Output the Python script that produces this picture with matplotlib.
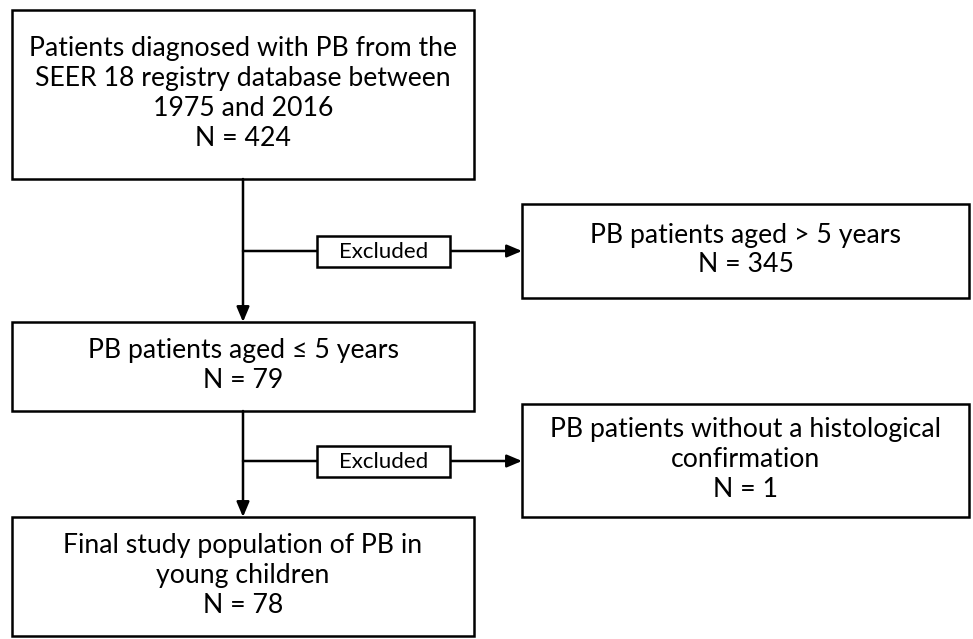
import matplotlib.pyplot as plt
from matplotlib.patches import Rectangle

# flowchart content
main_labels = ["Patients diagnosed with PB from the\nSEER 18 registry database between\n1975 and 2016",
               "PB patients aged \u2264 5 years",
               "Final study population of PB in\nyoung children"]
main_counts = [424, 79, 78]
excl_labels = ["PB patients aged > 5 years",
               "PB patients without a histological\nconfirmation"]
excl_counts = [345, 1]
step_label = "Excluded"

plt.rcParams['font.family'] = ['Lato', 'DejaVu Sans']

W, H = 973, 639
fig = plt.figure(figsize=(W / 100, H / 100), dpi=100)
ax = fig.add_axes([0, 0, 1, 1])
ax.set_xlim(0, W)
ax.set_ylim(H, 0)
ax.axis('off')

lw = 1.8
# box geometry in pixels: (x0, y0, x1, y1)
main_boxes = [(12, 10, 474, 179), (12, 322, 474, 411), (12, 517, 474, 636)]
excl_boxes = [(522, 204, 969, 298), (522, 404, 969, 517)]
branch_y = [251, 461]
cx = 243


def box(b, text, fs=19.2):
    x0, y0, x1, y1 = b
    ax.add_patch(Rectangle((x0, y0), x1 - x0, y1 - y0, fill=False, lw=lw, ec='black'))
    ax.text((x0 + x1) / 2, (y0 + y1) / 2 - 1, text, ha='center', va='center',
            fontsize=fs, linespacing=1.25)


for b, lab, n in zip(main_boxes, main_labels, main_counts):
    box(b, f"{lab}\nN = {n}")
for b, lab, n in zip(excl_boxes, excl_labels, excl_counts):
    box(b, f"{lab}\nN = {n}")

arrow = dict(arrowstyle='-|>,head_length=0.9,head_width=0.38', color='black', lw=lw,
             shrinkA=0, shrinkB=0)
for i, y in enumerate(branch_y):
    top = main_boxes[i][3]
    bot = main_boxes[i + 1][1]
    ax.annotate('', xy=(cx, bot), xytext=(cx, top), arrowprops=arrow)
    ax.annotate('', xy=(excl_boxes[i][0], y), xytext=(cx, y), arrowprops=arrow)
    ax.add_patch(Rectangle((317, y - 15), 133, 31, fc='white', ec='black', lw=lw, zorder=3))
    ax.text(383.5, y + 1, step_label, ha='center', va='center', fontsize=16, zorder=4)

fig.savefig('out.png', dpi=100)
